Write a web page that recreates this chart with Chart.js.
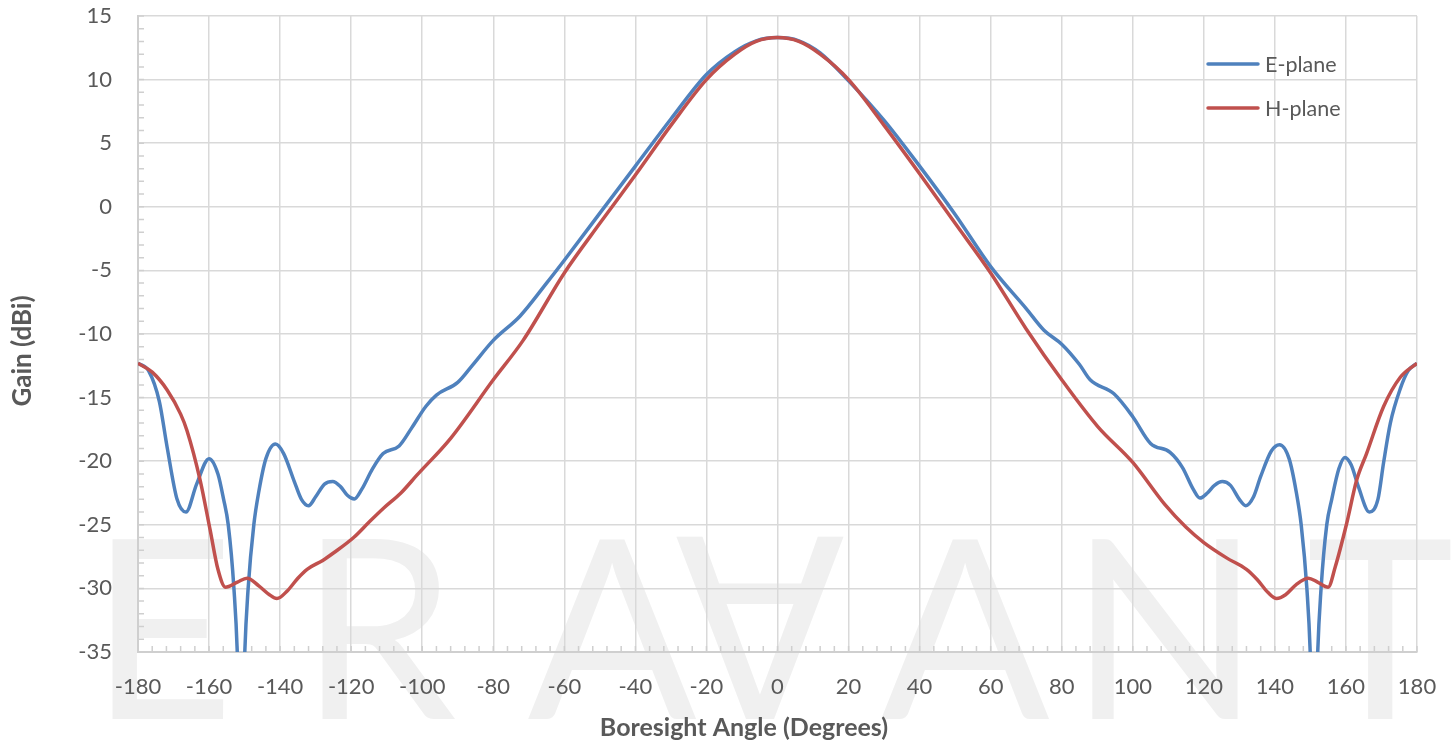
<!DOCTYPE html>
<html>
<head>
<meta charset="utf-8">
<title>Gain pattern</title>
<script src="https://cdn.jsdelivr.net/npm/chart.js@4.4.1/dist/chart.umd.min.js"></script>
<style>
  html, body { margin: 0; padding: 0; background: #ffffff; }
  #wrap { width: 1454px; height: 745px; }
</style>
</head>
<body>
<div id="wrap"><canvas id="gain-chart" width="1454" height="745"></canvas></div>
<script>
// E-plane cut (deg / dBi)
var eAngles = [
  -180, -177, -174, -171.8, -169, -166.5, -163.5, -160, -157.5, -155.9,
  -154.6, -153, -152, -151, -150, -149, -147.4, -146, -144, -141.3,
  -139, -136, -134, -132, -130, -127.5, -125.2, -123, -121, -119.1,
  -117, -114, -111, -106.5, -103, -99, -96, -90, -86, -80,
  -72.5, -65, -60, -50, -40, -30, -20, -12, -6, 0,
  6, 12, 20, 30, 40, 50, 60, 70, 75, 80,
  85, 88, 94.7, 100, 105, 110.5, 114, 117, 118.9, 121,
  123, 125.2, 127.5, 130, 131.8, 134, 136, 139, 141.3, 144,
  146, 147.4, 149, 150, 151, 152, 153, 154.6, 156, 158,
  159.7, 161.5, 163.5, 166.6, 169, 170.6, 172.5, 175.3, 177.5, 180
];
var eGain = [
  -12.3, -12.9, -15.3, -18.9, -23.0, -24.0, -21.8, -19.8, -21.0, -23.0,
  -25, -30, -35.5, -48, -35.5, -30, -25, -22.4, -19.8, -18.65,
  -19.4, -21.6, -23.0, -23.5, -22.8, -21.8, -21.6, -22.0, -22.7, -22.97,
  -22.2, -20.6, -19.4, -18.8, -17.4, -15.7, -14.8, -13.8, -12.5, -10.5,
  -8.6, -6.0, -4.2, -0.5, 3.2, 6.9, 10.4, 12.2, 13.05, 13.3,
  13.05, 12.1, 9.9, 6.8, 3.2, -0.6, -4.7, -8.0, -9.7, -10.8,
  -12.4, -13.6, -14.7, -16.5, -18.6, -19.3, -20.5, -22.2, -22.9, -22.5,
  -21.9, -21.6, -21.9, -23.0, -23.5, -22.8, -21.2, -19.2, -18.7, -19.8,
  -22.4, -25, -30, -35.5, -48, -35.5, -30, -25, -23.0, -20.6,
  -19.7, -20.3, -22.0, -24.0, -23.0, -20.1, -17.0, -14.3, -12.9, -12.3
];

// H-plane cut
var hAngles = [
  -180, -176, -171.8, -168, -166.2, -162.5, -159.7, -157.5, -155.4, -152,
  -149.3, -146, -143, -140.9, -138, -135, -132.4, -128, -124.9, -119.3,
  -115, -110.9, -106, -101.5, -92, -80, -71.6, -60, -50, -40,
  -30, -20, -12, -6, 0, 6, 12, 20, 30, 40,
  50, 60, 70, 80, 90.2, 100, 109, 115, 120, 126.4,
  132, 135, 138, 140.5, 143, 146, 149.4, 152, 155, 157,
  160.2, 163, 165.8, 170.6, 175.3, 180
];
var hGain = [
  -12.3, -13.0, -14.4, -16.3, -17.6, -21.5, -25.4, -28.5, -29.9, -29.5,
  -29.2, -29.8, -30.5, -30.8, -30.2, -29.2, -28.5, -27.8, -27.2, -26.0,
  -24.8, -23.7, -22.5, -21.1, -18.2, -13.6, -10.5, -5.2, -1.3, 2.5,
  6.4, 10.0, 12.0, 13.0, 13.3, 13.0, 12.0, 10.0, 6.4, 2.6,
  -1.3, -5.2, -9.6, -13.6, -17.3, -20.1, -23.4, -25.2, -26.4, -27.6,
  -28.5, -29.3, -30.3, -30.8, -30.5, -29.7, -29.2, -29.5, -29.9, -28.3,
  -24.9, -21.5, -19.4, -15.7, -13.4, -12.3
];

var seriesNames = ["E-plane", "H-plane"];
var seriesColors = ["#4F81BD", "#C0504D"];
var xTitle = "Boresight Angle (Degrees)";
var yTitle = "Gain (dBi)";

var xMin = -180, xMax = 180, xStep = 20, xMinorStep = 4;
var yMin = -35, yMax = 15, yStep = 5, yMinorStep = 1;

var textGrey = "#595959";
var gridGrey = "#d9d9d9";

function toPoints(xs, ys) {
  return xs.map(function (x, i) { return { x: x, y: ys[i] }; });
}

// faint company mark behind the plot
var watermark = {
  id: "watermark",
  beforeDraw: function (chart) {
    var ctx = chart.ctx;
    var letters = ["E", "R", "A", "\u2200", "A", "N", "T"];
    var centers = [162, 378, 612, 760, 965, 1165, 1380];
    ctx.save();
    ctx.fillStyle = "#f0f0f0";
    ctx.font = "250px Lato, 'DejaVu Sans'";
    ctx.textAlign = "center";
    ctx.textBaseline = "alphabetic";
    letters.forEach(function (l, i) {
      ctx.fillText(l, centers[i], 719);
    });
    ctx.restore();
  }
};

// small inside tick marks like the excel axis
var minorTicks = {
  id: "minorTicks",
  beforeDatasetsDraw: function (chart) {
    var ctx = chart.ctx, area = chart.chartArea;
    var sx = chart.scales.x, sy = chart.scales.y;
    ctx.save();
    ctx.strokeStyle = "#cfcfcf";
    ctx.lineWidth = 1.5;
    ctx.beginPath();
    for (var v = yMin; v <= yMax; v += yMinorStep) {
      var py = sy.getPixelForValue(v);
      ctx.moveTo(area.left, py);
      ctx.lineTo(area.left + 6, py);
    }
    for (var a = xMin; a <= xMax; a += xMinorStep) {
      var px = sx.getPixelForValue(a);
      ctx.moveTo(px, area.bottom);
      ctx.lineTo(px, area.bottom - 6);
    }
    ctx.stroke();
    ctx.restore();
  }
};

// axis titles: excel centres them a bit off the plot centre
var axisTitles = {
  id: "axisTitles",
  afterDraw: function (chart) {
    var ctx = chart.ctx;
    ctx.save();
    ctx.fillStyle = textGrey;
    ctx.textAlign = "center";
    ctx.textBaseline = "middle";
    ctx.font = "bold 25px Lato";
    ctx.fillText(xTitle, 744, 728);
    ctx.translate(23, 351);
    ctx.rotate(-Math.PI / 2);
    ctx.font = "bold 26px Lato";
    ctx.fillText(yTitle, 0, 0);
    ctx.restore();
  }
};

// legend sits inside the plot, top right
var insideLegend = {
  id: "insideLegend",
  afterDatasetsDraw: function (chart) {
    var ctx = chart.ctx;
    ctx.save();
    ctx.font = "21.5px Lato";
    ctx.textBaseline = "middle";
    ctx.textAlign = "left";
    chart.data.datasets.forEach(function (ds, i) {
      var y = 64 + i * 44;
      ctx.strokeStyle = ds.borderColor;
      ctx.lineWidth = 3.5;
      ctx.lineCap = "round";
      ctx.beginPath();
      ctx.moveTo(1208, y);
      ctx.lineTo(1258, y);
      ctx.stroke();
      ctx.fillStyle = textGrey;
      ctx.fillText(ds.label, 1265, y + 1);
    });
    ctx.restore();
  }
};

function drawChart() {
  Chart.defaults.font.family = "Lato";
  Chart.defaults.color = textGrey;

  var ctx = document.getElementById("gain-chart").getContext("2d");
  var gainChart = new Chart(ctx, {
    type: "line",
    data: {
      datasets: [{
        label: seriesNames[0],
        data: toPoints(eAngles, eGain),
        borderColor: seriesColors[0],
        backgroundColor: seriesColors[0],
        borderWidth: 3.5,
        pointRadius: 0,
        fill: false,
        cubicInterpolationMode: "monotone",
        order: 1
      }, {
        label: seriesNames[1],
        data: toPoints(hAngles, hGain),
        borderColor: seriesColors[1],
        backgroundColor: seriesColors[1],
        borderWidth: 3.5,
        pointRadius: 0,
        fill: false,
        cubicInterpolationMode: "monotone",
        order: 0
      }]
    },
    options: {
      responsive: false,
      animation: false,
      events: [],
      layout: { padding: { left: 0, right: 37, top: 16, bottom: 0 } },
      plugins: {
        legend: { display: false },
        tooltip: { enabled: false }
      },
      scales: {
        x: {
          type: "linear",
          min: xMin,
          max: xMax,
          ticks: { stepSize: xStep, color: textGrey, font: { size: 22 }, padding: 22, maxRotation: 0, autoSkip: false },
          grid: { color: gridGrey, lineWidth: 1.5, drawTicks: false },
          border: { color: "#cfcfcf", width: 2 },
          afterFit: function (scale) {
            scale.height = 93;
            scale.paddingLeft = 0;
            scale.paddingRight = 0;
          }
        },
        y: {
          min: yMin,
          max: yMax,
          ticks: { stepSize: yStep, color: textGrey, font: { size: 22 }, padding: 26 },
          grid: { color: gridGrey, lineWidth: 1.5, drawTicks: false },
          border: { color: "#cfcfcf", width: 2 },
          afterFit: function (scale) {
            scale.width = 138;
            scale.paddingTop = 0;
            scale.paddingBottom = 0;
          }
        }
      }
    },
    plugins: [watermark, minorTicks, axisTitles, insideLegend]
  });
}

if (document.fonts && document.fonts.load) {
  Promise.all([
    document.fonts.load("22px Lato"),
    document.fonts.load("bold 25px Lato")
  ]).then(drawChart, drawChart);
} else {
  drawChart();
}
</script>
</body>
</html>
